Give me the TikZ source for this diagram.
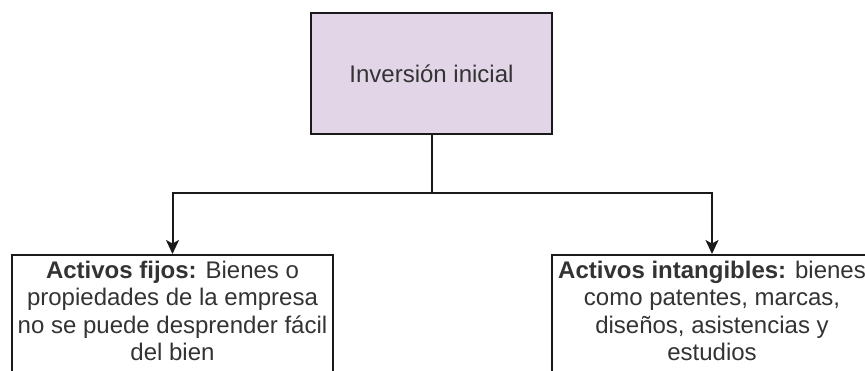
\documentclass[tikz,border=0pt]{standalone}
\usepackage{fontspec}
\setmainfont{Liberation Sans}
\usetikzlibrary{arrows.meta}
\definecolor{boxfill}{HTML}{E1D5E7}
\definecolor{ink}{HTML}{333333}
\definecolor{edge}{HTML}{1A1A1A}
\begin{document}
\begin{tikzpicture}[x=1pt,y=1pt,
  labeltext/.style={font=\fontsize{24pt}{27.5pt}\selectfont, text=ink},
  headbox/.style={draw=edge, line width=2pt, fill=boxfill, minimum width=241pt,
    minimum height=121pt, inner sep=0pt, labeltext},
  assetbox/.style={draw=edge, line width=2pt, fill=white, anchor=north,
    inner xsep=0pt, inner ysep=6pt, labeltext},
  link/.style={draw=edge, line width=2pt},
  arrowlink/.style={link, -{Stealth[length=14pt,width=13pt,inset=3.5pt]}}]
  \useasboundingbox (0,0) rectangle (865,-370);
  \clip (0,0) rectangle (865,-370);
  \fill[white] (0,0) rectangle (865,-370);

  % top box
  \node[headbox] (inv) at (431.5,-73.5) {Inversión inicial};

  % two boxes below, running past the lower edge
  \node[assetbox] (fijos) at (172.5,-254)
    {\parbox[t][160pt][t]{321pt}{\centering
      \textbf{Activos fijos:} Bienes o\\
      propiedades de la empresa\\
      no se puede desprender fácil\\
      del bien}};
  \node[assetbox] (intang) at (712,-254)
    {\parbox[t][160pt][t]{320pt}{\centering
      \textbf{Activos intangibles:} bienes\\
      como patentes, marcas,\\
      diseños, asistencias y\\
      estudios}};

  % connectors
  \coordinate (split) at (431.5,-193);
  \draw[link] (inv.south) -- (split);
  \draw[arrowlink] (split) -| (fijos.north);
  \draw[arrowlink] (split) -| (intang.north);
\end{tikzpicture}
\end{document}
